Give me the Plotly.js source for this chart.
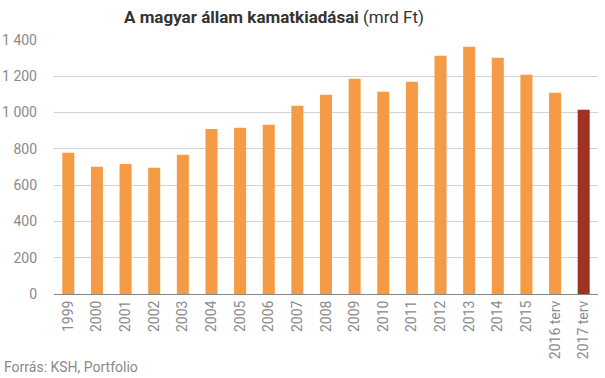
<!DOCTYPE html>
<html><head><meta charset="utf-8">
<script src="https://cdn.plot.ly/plotly-3.0.1.min.js"></script>
<style>html,body{margin:0;padding:0;background:#fff}#c{width:605px;height:378px}</style>
</head><body><div id="c"></div>
<script>
var categories = ["1999","2000","2001","2002","2003","2004","2005","2006","2007","2008","2009","2010","2011","2012","2013","2014","2015","2016 terv","2017 terv"];
var values = [778,702,717,696,767,910,916,933,1037,1098,1186,1115,1170,1313,1363,1302,1208,1109,1015];
var tickVals = [0,200,400,600,800,1000,1200,1400];
var tickText = ["0","200","400","600","800","1 000","1 200","1 400"];
var colors = categories.map(function(c){ return c === "2017 terv" ? "#A03224" : "#F59B45"; });

Plotly.newPlot("c", [{
  type: "bar", x: categories, y: values,
  marker: {color: colors}, hoverinfo: "none"
}], {
  width: 605, height: 378,
  margin: {l: 54, r: 7, t: 40, b: 84},
  bargap: 0.58,
  paper_bgcolor: "#fff", plot_bgcolor: "#fff",
  font: {family: "Roboto, sans-serif", color: "#8a8a8a", size: 14},
  title: {text: "<b>A magyar állam kamatkiadásai</b> (mrd Ft)", xref: "container", x: 124/605, xanchor: "left", yref: "container", y: 0.955, yanchor: "middle",
          font: {family: "Roboto, sans-serif", size: 17, color: "#333333"}},
  xaxis: {type: "category", tickangle: -90, showgrid: false, showline: true, linecolor: "#888", linewidth: 1,
          ticks: "", tickfont: {size: 14, color: "#8a8a8a"}, range: [-0.5, 18.5]},
  yaxis: {range: [0, 1400], tickvals: tickVals, ticktext: tickText, showgrid: true, gridcolor: "#d3d3d3", gridwidth: 1,
          zeroline: false, showline: false, ticks: "", ticklabelstandoff: 16, tickfont: {size: 14, color: "#8a8a8a"}},
  annotations: [{text: "Forrás: KSH, Portfolio", xref: "paper", yref: "paper", x: -0.085, y: -0.287, xanchor: "left", yanchor: "middle",
                 showarrow: false, font: {size: 14, color: "#8a8a8a"}, align: "left", xshift: -6}],
  showlegend: false
}, {staticPlot: true, displayModeBar: false});
</script></body></html>
